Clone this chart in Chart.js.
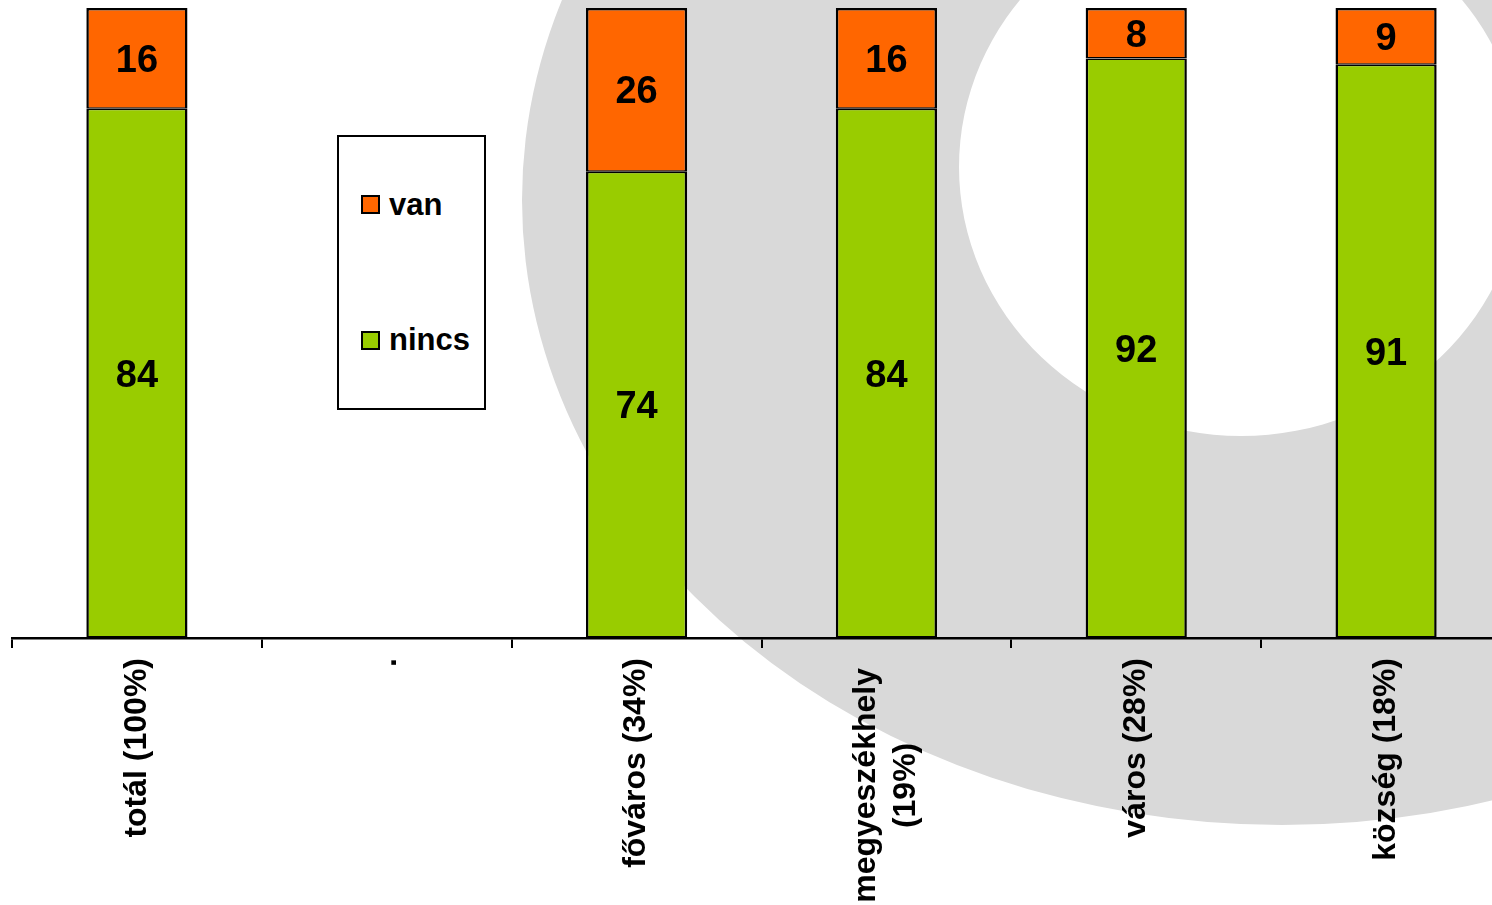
<!DOCTYPE html>
<html>
<head>
<meta charset="utf-8">
<script src="https://cdn.jsdelivr.net/npm/chart.js@4/dist/chart.umd.min.js"></script>
<style>
    html, body { margin: 0; padding: 0; overflow: hidden; background: #fff; }
    #wrap { position: relative; width: 1511px; height: 905px; }
    #legend {
        position: absolute; left: 337px; top: 135px; width: 149px; height: 275px;
        box-sizing: border-box; border: 2px solid #000; background: #fff;
        display: flex; flex-direction: column; justify-content: space-around;
        padding-left: 22px;
        font: bold 31px "Liberation Sans", Arial, sans-serif; color: #000;
    }
    #legend .item { display: flex; align-items: center; height: 34px; }
    #legend .swatch {
        width: 19px; height: 19px; box-sizing: border-box;
        border: 2px solid #000; margin-right: 9px;
    }
</style>
</head>
<body>
<div id="wrap">
    <canvas id="chart"></canvas>
    <div id="legend"></div>
</div>
<script>
// Chart data
const categories = ['totál (100%)', '.', 'főváros (34%)', ['megyeszékhely', '(19%)'], 'város (28%)', 'község (18%)'];
const nincsValues = [84, null, 74, 84, 92, 91];
const vanValues = [16, null, 26, 16, 8, 9];

const FONT = '"Liberation Sans", Arial, sans-serif';

// Gray ring drawn behind the chart
const watermark = {
    id: 'watermark',
    beforeDraw(chart) {
        const ctx = chart.ctx;
        ctx.save();
        ctx.fillStyle = '#d9d9d9';
        ctx.beginPath();
        ctx.ellipse(1282, 200, 760, 625, 0, 0, Math.PI * 2);
        ctx.moveTo(1241 + 282, 167);
        ctx.ellipse(1241, 167, 282, 269, 0, 0, Math.PI * 2);
        ctx.fill('evenodd');
        ctx.restore();
    }
};

// Center the lines of multi-line tick labels as a block (like the original)
const centerMultiline = {
    id: 'centerMultiline',
    beforeDraw(chart) {
        const scale = chart.scales.x;
        const ctx = chart.ctx;
        scale.getLabelItems().forEach(item => {
            if (!Array.isArray(item.label) || item._centered) return;
            const lh = item.font.lineHeight;
            ctx.save();
            ctx.font = item.font.string;
            const w = Math.max(...item.label.map(t => ctx.measureText(t).width));
            ctx.restore();
            item.options.translation[0] -= lh * (item.label.length - 1) / 2;
            item.options.translation[1] += w / 2 + 10;
            item.options.textAlign = 'center';
            item._centered = true;
        });
    }
};

// Values written in the middle of each segment
const segmentLabels = {
    id: 'segmentLabels',
    afterDatasetsDraw(chart) {
        const ctx = chart.ctx;
        ctx.save();
        ctx.font = 'bold 38px ' + FONT;
        ctx.fillStyle = '#000';
        ctx.textAlign = 'center';
        ctx.textBaseline = 'middle';
        chart.data.datasets.forEach((ds, i) => {
            chart.getDatasetMeta(i).data.forEach((bar, j) => {
                const v = ds.data[j];
                if (v === null || v === undefined) return;
                ctx.fillText(String(v), bar.x, (bar.y + bar.base) / 2 + 3);
            });
        });
        ctx.restore();
    }
};

function buildLegend(chart) {
    const box = document.getElementById('legend');
    chart.data.datasets.slice().reverse().forEach(ds => {
        const item = document.createElement('div');
        item.className = 'item';
        const sw = document.createElement('span');
        sw.className = 'swatch';
        sw.style.background = ds.backgroundColor;
        const txt = document.createElement('span');
        txt.textContent = ds.label;
        item.append(sw, txt);
        box.appendChild(item);
    });
}

const ctx = document.getElementById('chart').getContext('2d');
const chart = new Chart(ctx, {
    type: 'bar',
    data: {
        labels: categories,
        datasets: [{
            label: 'nincs',
            data: nincsValues,
            backgroundColor: '#99cc00',
            borderColor: '#000',
            borderWidth: { top: 1.5, left: 2.5, right: 2.5, bottom: 2 },
            borderSkipped: false
        }, {
            label: 'van',
            data: vanValues,
            backgroundColor: '#ff6600',
            borderColor: '#000',
            borderWidth: { top: 2.5, left: 2.5, right: 2.5, bottom: 1.5 },
            borderSkipped: false
        }]
    },
    options: {
        responsive: true,
        maintainAspectRatio: false,
        animation: false,
        layout: { padding: { left: 12, top: 8, right: 0, bottom: 0 } },
        datasets: { bar: { barPercentage: 0.405, categoryPercentage: 1.0 } },
        plugins: {
            legend: { display: false },
            tooltip: { enabled: false }
        },
        scales: {
            x: {
                stacked: true,
                border: { display: true, color: '#000', width: 2.5 },
                grid: {
                    offset: true,
                    drawOnChartArea: false,
                    drawTicks: true,
                    tickLength: 10,
                    color: '#000',
                    lineWidth: 2
                },
                ticks: {
                    minRotation: 90,
                    maxRotation: 90,
                    autoSkip: false,
                    padding: 10,
                    color: '#000',
                    font: { family: FONT, size: 32, weight: 'bold', lineHeight: 1.25 }
                },
                afterFit: function(scale) {
                    scale.height = 267;
                }
            },
            y: {
                stacked: true,
                display: false,
                min: 0,
                max: 100
            }
        }
    },
    plugins: [watermark, centerMultiline, segmentLabels]
});

buildLegend(chart);
</script>
</body>
</html>
